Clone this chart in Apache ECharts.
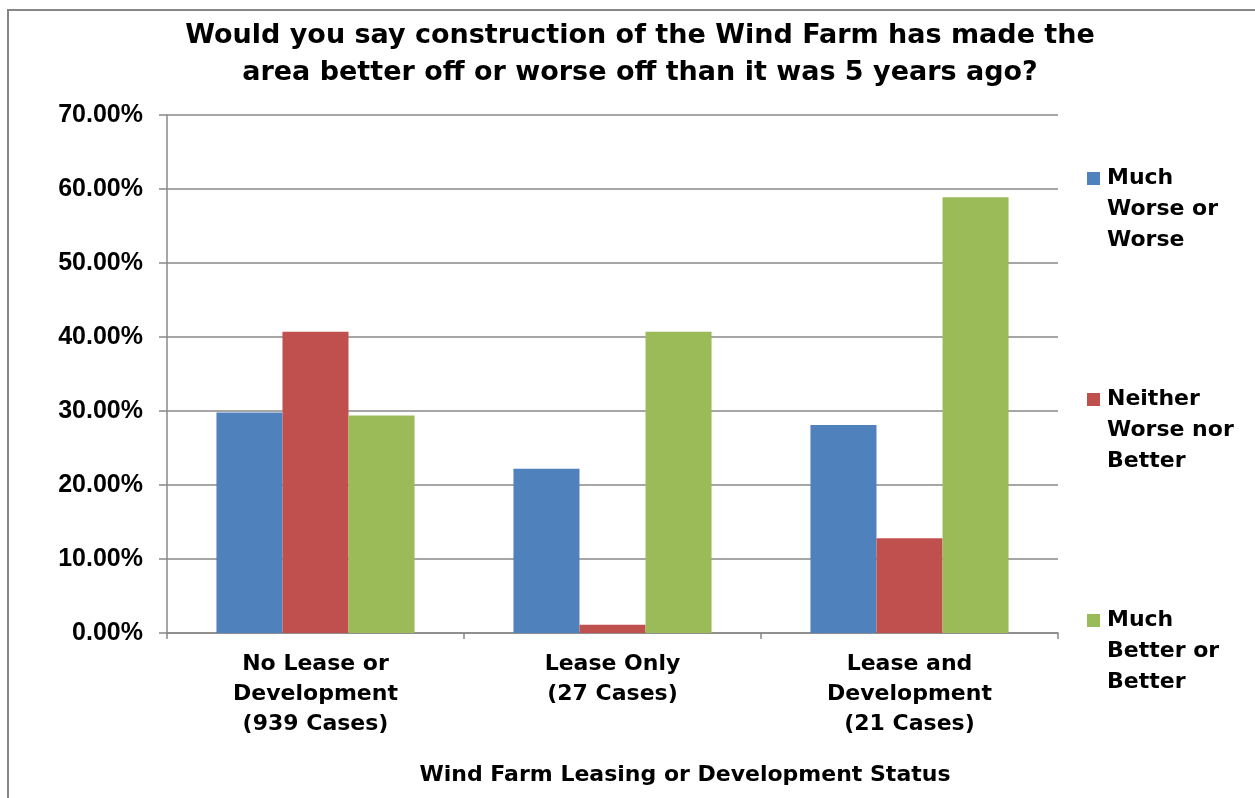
<!DOCTYPE html>
<html>
<head>
<meta charset="utf-8">
<style>
  html, body { margin: 0; padding: 0; background: #ffffff; }
  #chart { width: 1255px; height: 798px; }
</style>
<script src="https://cdn.jsdelivr.net/npm/echarts@6/dist/echarts.min.js"></script>
</head>
<body>
<div id="chart"></div>
<script>
// Survey responses by wind farm leasing / development status (percent of cases)
const categories = [
  'No Lease or\nDevelopment\n(939 Cases)',
  'Lease Only\n(27 Cases)',
  'Lease and\nDevelopment\n(21 Cases)'
];
const seriesNames = [
  'Much\nWorse or\nWorse',
  'Neither\nWorse nor\nBetter',
  'Much\nBetter or\nBetter'
];
const muchWorseOrWorse   = [29.8, 22.2, 28.1];
const neitherWorseBetter = [40.7, 1.1, 12.8];
const muchBetterOrBetter = [29.4, 40.7, 58.9];
const yTicks = [0, 10, 20, 30, 40, 50, 60, 70];

const colors = ['#4F81BD', '#C0504D', '#9BBB59'];
const seriesValues = [muchWorseOrWorse, neitherWorseBetter, muchBetterOrBetter];
const FONT = 'DejaVu Sans';
const NUM_FONT = 'Liberation Sans';

// Legend entries: coloured square on the first line, remaining lines indented
const legendRich = {
  t: { fontFamily: FONT, fontWeight: 'bold', fontSize: 22, color: '#000', lineHeight: 31 },
  ind: { width: 20, height: 13 },
  gap: { width: 7 }
};
colors.forEach((c, i) => {
  legendRich['sq' + i] = { width: 13, height: 13, backgroundColor: c };
});

const chart = echarts.init(document.getElementById('chart'), null, { renderer: 'canvas' });

chart.setOption({
  backgroundColor: '#ffffff',
  animation: false,
  color: colors,
  title: {
    text: 'Would you say construction of the Wind Farm has made the\narea better off or worse off than it was 5 years ago?',
    left: 635,
    top: 12,
    textAlign: 'center',
    padding: 5,
    textStyle: {
      fontFamily: FONT,
      fontWeight: 'bold',
      fontSize: 27,
      lineHeight: 37,
      color: '#000'
    }
  },
  legend: {
    orient: 'vertical',
    left: 1077,
    top: 158,
    itemGap: 128,
    icon: 'none',
    itemWidth: 0,
    itemHeight: 13,
    selectedMode: false,
    data: seriesNames,
    formatter: function (name) {
      const i = seriesNames.indexOf(name);
      const lines = name.split('\n');
      return lines.map((ln, k) =>
        (k === 0 ? '{sq' + i + '|}{gap|}' : '{ind|}') + '{t|' + ln + '}'
      ).join('\n');
    },
    textStyle: {
      fontFamily: FONT,
      fontWeight: 'bold',
      fontSize: 22,
      lineHeight: 31,
      color: '#000',
      rich: legendRich
    }
  },
  grid: {
    left: 167,
    right: 197,
    top: 115,
    bottom: 165,
    containLabel: false
  },
  xAxis: {
    type: 'category',
    data: categories,
    name: 'Wind Farm Leasing or Development Status',
    nameLocation: 'middle',
    nameGap: 131,
    nameTextStyle: {
      fontFamily: FONT,
      fontWeight: 'bold',
      fontSize: 22,
      color: '#000',
      padding: [0, 0, 0, 145]
    },
    axisLine: { show: true, lineStyle: { color: '#888888', width: 1.5 } },
    axisTick: { show: true, length: 6, lineStyle: { color: '#888888', width: 1.5 } },
    axisLabel: {
      fontFamily: FONT,
      fontWeight: 'bold',
      fontSize: 22,
      lineHeight: 30,
      color: '#000',
      margin: 16,
      interval: 0
    },
    splitLine: { show: false }
  },
  yAxis: {
    type: 'value',
    min: 0,
    max: 70,
    interval: 10,
    axisLine: { show: true, lineStyle: { color: '#888888', width: 1.5 } },
    axisTick: { show: true, length: 8, lineStyle: { color: '#888888', width: 1.5 } },
    axisLabel: {
      fontFamily: NUM_FONT,
      fontWeight: 'bold',
      fontSize: 25,
      color: '#000',
      margin: 24,
      formatter: function (v) {
        return yTicks.indexOf(v) >= 0 ? v.toFixed(2) + '%' : '';
      }
    },
    splitLine: { show: true, lineStyle: { color: '#888888', width: 1.5 } }
  },
  series: seriesNames.map((name, i) => ({
    name: name,
    type: 'bar',
    data: seriesValues[i],
    barGap: '0%',
    barCategoryGap: '33.3%',
    itemStyle: { color: colors[i] }
  })),
  graphic: [{
    type: 'polyline',
    silent: true,
    shape: { points: [[8, 900], [8, 10], [1400, 10]] },
    style: { fill: null, stroke: '#868686', lineWidth: 2 }
  }]
});
</script>
</body>
</html>
